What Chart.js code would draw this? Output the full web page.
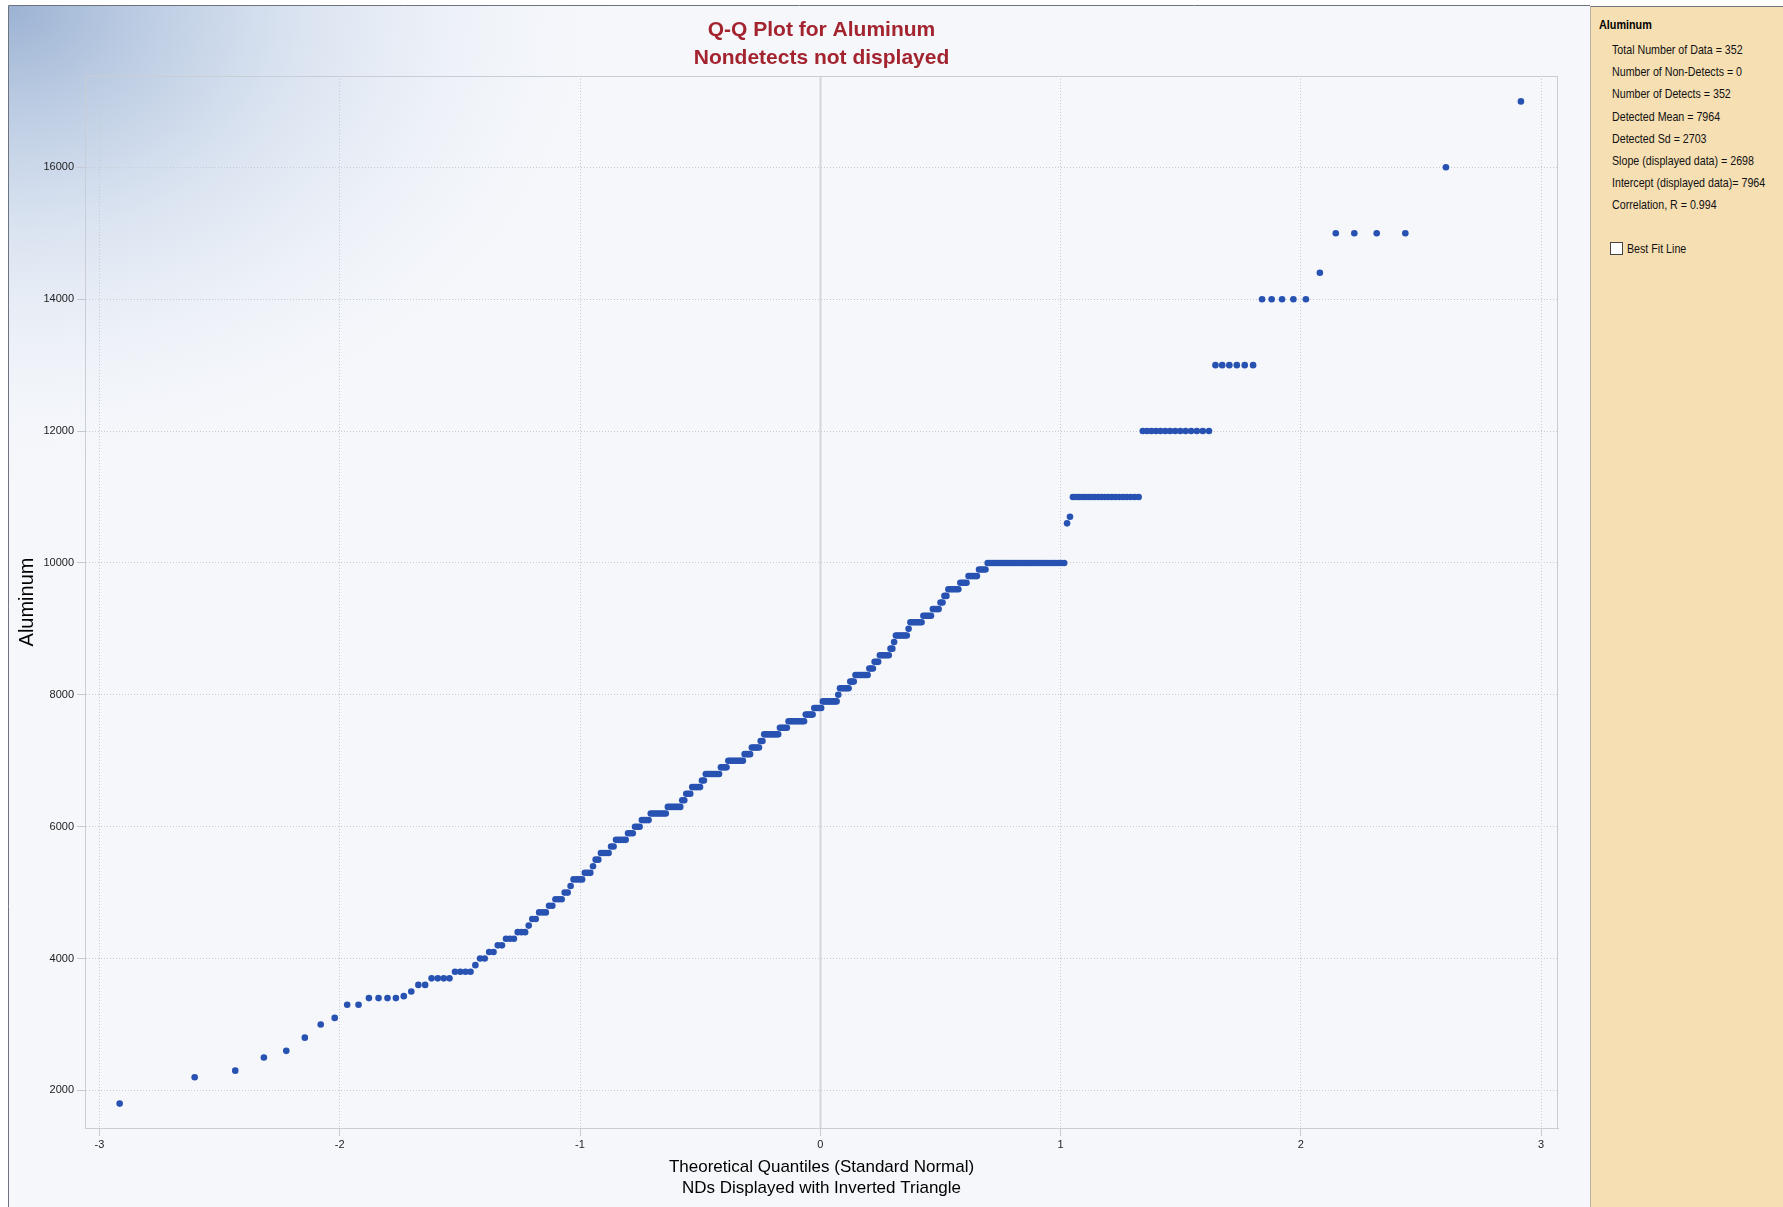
<!DOCTYPE html>
<html>
<head>
<meta charset="utf-8">
<script src="https://cdn.jsdelivr.net/npm/chart.js@4.4.1/dist/chart.umd.min.js"></script>
<style>
  html, body { margin: 0; padding: 0; background: #fff; }
  body { width: 1783px; height: 1207px; position: relative; overflow: hidden; font-family: "Liberation Sans", Arial, sans-serif; }
  #wrap { position: absolute; left: 0; top: 0; width: 1590px; height: 1207px; }
  #panel { position: absolute; left: 1590px; top: 6px; width: 193px; height: 1201px; background: #f6dfb3; border-left: 1px solid #b9b2a4; border-top: 1px solid #6d7480; box-sizing: border-box; }
  #panel .hd { position: absolute; left: 8px; top: 11px; font: bold 12px "Liberation Sans", Arial, sans-serif; color: #000; transform: scaleX(0.9); transform-origin: 0 0; }
  #stats { position: absolute; left: 21px; top: 32px; font: 13px/22.2px "Liberation Sans", Arial, sans-serif; color: #111; white-space: nowrap; transform: scaleX(0.82); transform-origin: 0 0; }
  #panel .cb { position: absolute; left: 19px; top: 234px; font: 13px "Liberation Sans", Arial, sans-serif; color: #111; white-space: nowrap; }
  #panel .box { display: inline-block; width: 11px; height: 11px; border: 1px solid #444; background: #fff; vertical-align: -2px; margin-right: 4px; }
  #panel .cb .lbl { display: inline-block; transform: scaleX(0.82); transform-origin: 0 50%; }
</style>
</head>
<body>
<div id="wrap"><canvas id="qq" width="1590" height="1207"></canvas></div>
<div id="panel">
  <div class="hd">Aluminum</div>
  <div id="stats"></div>
  <div class="cb"><span class="box"></span><span class="lbl">Best Fit Line</span></div>
</div>
<script>
// sorted detected values, run-length: level and how many samples sit on it
const levels = [1800, 2200, 2300, 2500, 2600, 2800, 3000, 3100, 3300, 3400, 3430, 3500, 3600, 3700, 3800, 3900,
  4000, 4100, 4200, 4300, 4400, 4500, 4600, 4700, 4800, 4900, 5000, 5100, 5200, 5300, 5400, 5500, 5600, 5700,
  5800, 5900, 6000, 6100, 6200, 6300, 6400, 6500, 6600, 6700, 6800, 6900, 7000, 7100, 7200, 7300, 7400, 7500,
  7600, 7700, 7800, 7900, 8000, 8100, 8200, 8300, 8400, 8500, 8600, 8700, 8800, 8900, 9000, 9100, 9200, 9300,
  9400, 9500, 9600, 9700, 9800, 9900, 10000, 10600, 10700, 11000, 12000, 13000, 14000, 14400, 15000, 16000, 17000];
const counts = [1, 1, 1, 1, 1, 1, 1, 1, 2, 4, 1, 1, 2, 4, 4, 1,
  2, 2, 2, 3, 3, 1, 2, 3, 2, 3, 2, 1, 4, 3, 1, 2, 4, 2,
  5, 3, 3, 4, 8, 7, 2, 3, 5, 2, 8, 4, 9, 4, 5, 2, 9, 5,
  10, 5, 5, 9, 1, 6, 3, 8, 3, 3, 6, 2, 1, 7, 1, 7, 5, 4,
  2, 2, 6, 4, 5, 4, 32, 1, 1, 20, 14, 6, 5, 1, 4, 1, 1];

const xTicks = [-3, -2, -1, 0, 1, 2, 3];
const yTicks = [2000, 4000, 6000, 8000, 10000, 12000, 14000, 16000];

const statLines = [
  'Total Number of Data = 352',
  'Number of Non-Detects = 0',
  'Number of Detects = 352',
  'Detected Mean = 7964',
  'Detected Sd = 2703',
  'Slope (displayed data) = 2698',
  'Intercept (displayed data)= 7964',
  'Correlation, R = 0.994'
];

document.getElementById('stats').innerHTML = statLines.map(s => `<div>${s}</div>`).join('');

// inverse standard normal (Acklam)
function qnorm(p) {
  const a = [-3.969683028665376e+01, 2.209460984245205e+02, -2.759285104469687e+02, 1.383577518672690e+02, -3.066479806614716e+01, 2.506628277459239e+00];
  const b = [-5.447609879822406e+01, 1.615858368580409e+02, -1.556989798598866e+02, 6.680131188771972e+01, -1.328068155288572e+01];
  const c = [-7.784894002430293e-03, -3.223964580411365e-01, -2.400758277161838e+00, -2.549732539343734e+00, 4.374664141464968e+00, 2.938163982698783e+00];
  const d = [7.784695709041462e-03, 3.224671290700398e-01, 2.445134137142996e+00, 3.754408661907416e+00];
  const pl = 0.02425;
  let q, r;
  if (p < pl) {
    q = Math.sqrt(-2 * Math.log(p));
    return (((((c[0]*q+c[1])*q+c[2])*q+c[3])*q+c[4])*q+c[5]) / ((((d[0]*q+d[1])*q+d[2])*q+d[3])*q+1);
  }
  if (p > 1 - pl) {
    q = Math.sqrt(-2 * Math.log(1 - p));
    return -(((((c[0]*q+c[1])*q+c[2])*q+c[3])*q+c[4])*q+c[5]) / ((((d[0]*q+d[1])*q+d[2])*q+d[3])*q+1);
  }
  q = p - 0.5; r = q * q;
  return (((((a[0]*r+a[1])*r+a[2])*r+a[3])*r+a[4])*r+a[5])*q / (((((b[0]*r+b[1])*r+b[2])*r+b[3])*r+b[4])*r+1);
}

const values = [];
levels.forEach((v, i) => { for (let k = 0; k < counts[i]; k++) values.push(v); });
const n = values.length;
// Blom plotting positions
const points = values.map((v, i) => ({ x: qnorm((i + 1 - 0.375) / (n + 0.25)), y: v }));

const FONT = '"Liberation Sans", Arial, sans-serif';

const backdrop = {
  id: 'backdrop',
  beforeDraw(chart) {
    const ctx = chart.ctx;
    ctx.save();
    ctx.fillStyle = '#ffffff';
    ctx.fillRect(0, 0, chart.width, chart.height);
    ctx.fillStyle = '#f5f7fb';
    ctx.fillRect(8, 6, chart.width - 8, chart.height - 6);
    ctx.beginPath();
    ctx.rect(8, 6, chart.width - 8, chart.height - 6);
    ctx.clip();
    ctx.translate(8, 6);
    ctx.scale(1.3, 1);
    const g = ctx.createRadialGradient(0, 0, 0, 0, 0, 480);
    g.addColorStop(0, 'rgba(150,174,208,0.95)');
    g.addColorStop(0.4, 'rgba(192,208,230,0.65)');
    g.addColorStop(1, 'rgba(245,247,251,0)');
    ctx.fillStyle = g;
    ctx.fillRect(0, 0, 1000, 1000);
    ctx.restore();
    ctx.save();
    ctx.strokeStyle = '#6d7480';
    ctx.lineWidth = 1;
    ctx.beginPath();
    ctx.moveTo(8.5, chart.height);
    ctx.lineTo(8.5, 5.5);
    ctx.lineTo(chart.width, 5.5);
    ctx.stroke();
    ctx.restore();
  },
  beforeDatasetsDraw(chart) {
    const { ctx, chartArea: a, scales } = chart;
    ctx.save();
    // solid zero line
    const x0 = Math.round(scales.x.getPixelForValue(0)) + 0.5;
    ctx.strokeStyle = '#d3d6dd';
    ctx.lineWidth = 2;
    ctx.beginPath();
    ctx.moveTo(x0, a.top);
    ctx.lineTo(x0, a.bottom);
    ctx.stroke();
    // frame of plot area
    ctx.strokeStyle = '#c9cdd5';
    ctx.lineWidth = 1;
    ctx.strokeRect(a.left + 0.5, a.top + 0.5, a.right - a.left - 1, a.bottom - a.top);
    ctx.restore();
  }
};

new Chart(document.getElementById('qq').getContext('2d'), {
  type: 'scatter',
  data: {
    datasets: [{
      data: points,
      pointRadius: 3.3,
      pointBorderWidth: 0,
      pointBackgroundColor: '#2852b2',
      pointBorderColor: '#2852b2'
    }]
  },
  options: {
    responsive: false,
    animation: false,
    events: [],
    layout: { autoPadding: false, padding: { left: 0, right: 32, top: 0, bottom: 0 } },
    plugins: {
      legend: { display: false },
      tooltip: { enabled: false },
      title: {
        display: true,
        fullSize: false,
        text: ['Q-Q Plot for Aluminum', 'Nondetects not displayed'],
        color: '#a3242f',
        font: { family: FONT, size: 21, weight: 'bold', lineHeight: 28 / 21 },
        padding: { top: 16, bottom: 4 }
      }
    },
    scales: {
      x: {
        type: 'linear',
        min: -3.06,
        max: 3.07,
        afterBuildTicks: s => { s.ticks = xTicks.map(v => ({ value: v })); },
        afterFit: s => { s.height = 79; },
        grid: { color: '#c6cad2', lineWidth: 1, tickLength: 8, tickColor: '#c6cad2' },
        border: { display: true, color: '#bfc3cb', width: 1, dash: [1, 2] },
        ticks: { color: '#222', font: { family: FONT, size: 11 }, padding: 2, maxRotation: 0, callback: v => String(v) },
        title: {
          display: true,
          text: ['Theoretical Quantiles (Standard Normal)', 'NDs Displayed with Inverted Triangle'],
          color: '#000',
          font: { family: FONT, size: 17, lineHeight: 21 / 17 },
          padding: { top: 0, bottom: 8.5 }
        }
      },
      y: {
        type: 'linear',
        min: 1430,
        max: 17385,
        afterBuildTicks: s => { s.ticks = yTicks.map(v => ({ value: v })); },
        afterFit: s => { s.width = 85; },
        grid: { color: '#c6cad2', lineWidth: 1, tickLength: 8, tickColor: '#c6cad2' },
        border: { display: true, color: '#bfc3cb', width: 1, dash: [1, 2] },
        ticks: { color: '#222', font: { family: FONT, size: 11 }, padding: 3, callback: v => String(v) },
        title: {
          display: true,
          text: 'Aluminum',
          color: '#000',
          font: { family: FONT, size: 20, lineHeight: 1.2 },
          padding: { top: 15.5, bottom: 0 }
        }
      }
    }
  },
  plugins: [backdrop]
});
</script>
</body>
</html>
